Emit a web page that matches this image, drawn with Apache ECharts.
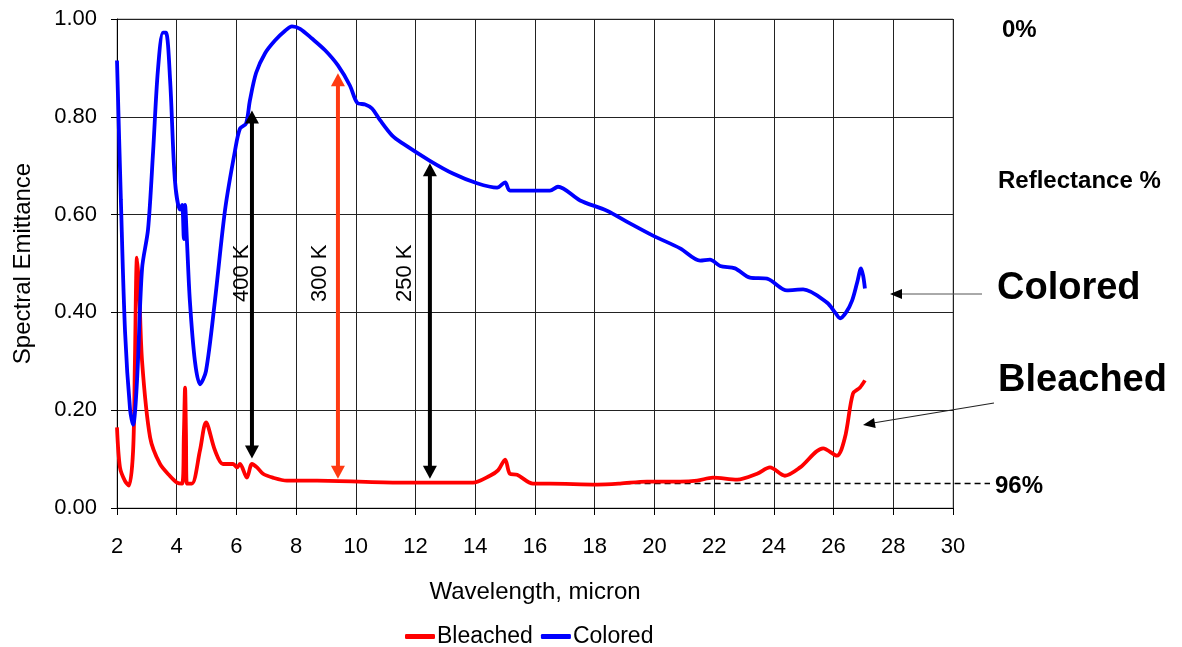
<!DOCTYPE html>
<html>
<head>
<meta charset="utf-8">
<script src="https://cdn.jsdelivr.net/npm/echarts@6/dist/echarts.min.js"></script>
<style>
  html, body { margin: 0; padding: 0; background: #fff; }
  #main { width: 1182px; height: 647px; }
</style>
</head>
<body>
<div id="main"></div>
<script>
// ---- data ----
var coloredX = [2.00, 2.13, 2.27, 2.44, 2.54, 2.67, 2.84, 3.04, 3.21, 3.37, 3.54, 3.64, 3.78, 3.94, 4.11, 4.18, 4.24, 4.28, 4.34, 4.44,
  4.61, 4.78, 4.98, 5.28, 5.62, 5.95, 6.12, 6.32, 6.45, 6.66, 6.96, 7.29, 7.63, 7.86, 8.13, 8.53, 8.97, 9.40, 9.80, 10.04,
  10.31, 10.54, 10.81, 11.21, 11.58, 12.48, 13.25, 14.06, 14.73, 15.00, 15.16, 16.50, 16.77, 17.51, 18.41, 19.18, 19.95, 20.86, 21.53, 21.86,
  22.20, 22.70, 23.20, 23.77, 24.44, 24.98, 25.78, 26.05, 26.22, 26.42, 26.62, 26.79, 26.92, 26.99, 27.05];
var coloredY = [0.915, 0.63, 0.36, 0.20, 0.17, 0.26, 0.49, 0.57, 0.73, 0.895, 0.972, 0.972, 0.874, 0.67, 0.61, 0.62, 0.55, 0.62, 0.55, 0.424,
  0.30, 0.253, 0.28, 0.424, 0.61, 0.73, 0.776, 0.786, 0.833, 0.89, 0.93, 0.956, 0.976, 0.985, 0.98, 0.96, 0.936, 0.905, 0.864, 0.829,
  0.825, 0.817, 0.793, 0.762, 0.745, 0.71, 0.684, 0.664, 0.655, 0.666, 0.649, 0.649, 0.657, 0.629, 0.608, 0.582, 0.557, 0.531, 0.506, 0.508,
  0.495, 0.49, 0.471, 0.469, 0.445, 0.447, 0.42, 0.40, 0.388, 0.40, 0.424, 0.461, 0.49, 0.475, 0.449];

var bleachedX = [2.00, 2.10, 2.27, 2.40, 2.54, 2.60, 2.67, 2.74, 2.84, 3.11, 3.44, 3.78, 4.01, 4.18, 4.24, 4.28, 4.31, 4.34, 4.51, 4.78,
  4.98, 5.28, 5.55, 5.89, 6.02, 6.12, 6.35, 6.52, 6.69, 6.89, 7.22, 7.69, 8.70, 11.48, 13.92, 14.49, 14.76, 15.00, 15.16, 15.40,
  15.93, 16.50, 18.08, 18.85, 19.75, 20.86, 21.43, 21.96, 22.77, 23.44, 23.87, 24.37, 24.88, 25.65, 26.11, 26.38, 26.65, 26.88, 27.05];
var bleachedY = [0.165, 0.083, 0.055, 0.046, 0.118, 0.30, 0.512, 0.45, 0.30, 0.144, 0.09, 0.065, 0.052, 0.05, 0.15, 0.246, 0.15, 0.05, 0.05, 0.118,
  0.175, 0.118, 0.09, 0.09, 0.083, 0.09, 0.062, 0.09, 0.083, 0.07, 0.062, 0.056, 0.056, 0.052, 0.052, 0.066, 0.077, 0.099, 0.07, 0.068,
  0.05, 0.05, 0.048, 0.05, 0.054, 0.054, 0.056, 0.062, 0.058, 0.07, 0.083, 0.066, 0.083, 0.122, 0.107, 0.144, 0.234, 0.246, 0.261];

// temperature arrows: x position, top and bottom emittance, label x
var arrowNames = ['400 K', '300 K', '250 K'];
var arrowX = [6.52, 9.40, 12.48];
var arrowTop = [0.813, 0.889, 0.705];
var arrowBottom = [0.101, 0.06, 0.06];
var arrowLabelX = [6.18, 8.80, 11.64];
var arrowColors = ['#000000', '#ff3a12', '#000000'];

var reflect96 = 0.051;   // dashed 96% line level
var reflect96From = 19.0;

function pairs(xs, ys) {
  var out = [];
  for (var i = 0; i < xs.length; i++) out.push([xs[i], ys[i]]);
  return out;
}

var chart = echarts.init(document.getElementById('main'));
var font = 'Liberation Sans, Arial, sans-serif';

var option = {
  animation: false,
  backgroundColor: '#fff',
  grid: { left: 117, right: 229, top: 19, bottom: 139, show: true, borderColor: '#999', borderWidth: 1 },
  legend: {
    data: ['Bleached', 'Colored'],
    top: 620,
    left: 400,
    itemGap: 8,
    icon: 'roundRect',
    itemWidth: 30,
    itemHeight: 5,
    textStyle: { fontFamily: font, fontSize: 23, color: '#000', padding: [0, 0, 0, -3] }
  },
  xAxis: {
    type: 'value', min: 2, max: 30, interval: 2,
    name: 'Wavelength, micron', nameLocation: 'middle', nameGap: 72,
    nameTextStyle: { fontFamily: font, fontSize: 24, color: '#000' },
    axisLine: { show: true, lineStyle: { color: '#000', width: 1 } },
    axisTick: { show: true, length: 7, lineStyle: { color: '#000' } },
    axisLabel: { margin: 28, fontFamily: font, fontSize: 22, color: '#000' },
    splitLine: { show: true, lineStyle: { color: '#222', width: 1 } }
  },
  yAxis: {
    type: 'value', min: 0, max: 1, interval: 0.2,
    name: 'Spectral Emittance', nameLocation: 'middle', nameGap: 82,
    nameTextStyle: { fontFamily: font, fontSize: 24, color: '#000' },
    axisLine: { show: true, lineStyle: { color: '#000', width: 1 } },
    axisTick: { show: true, length: 6, lineStyle: { color: '#000' } },
    axisLabel: { margin: 20, fontFamily: font, fontSize: 22, color: '#000',
      formatter: function (v) { return v.toFixed(2); } },
    splitLine: { show: true, lineStyle: { color: '#222', width: 1 } }
  },
  series: [
    { name: 'Bleached', type: 'line', data: pairs(bleachedX, bleachedY), showSymbol: false, symbol: 'none',
      smooth: 0.3, color: '#ff0000', lineStyle: { width: 3.8, color: '#ff0000' }, z: 3 },
    { name: 'Colored', type: 'line', data: pairs(coloredX, coloredY), showSymbol: false, symbol: 'none',
      smooth: 0.3, color: '#0000ff', lineStyle: { width: 3.8, color: '#0000ff' }, z: 4 }
  ]
};
chart.setOption(option);

// ---- annotations ----
function px(x, y) { return chart.convertToPixel({ gridIndex: 0 }, [x, y]); }

function arrowHead(tip, from, len, half, color) {
  var dx = tip[0] - from[0], dy = tip[1] - from[1];
  var d = Math.sqrt(dx * dx + dy * dy);
  var ux = dx / d, uy = dy / d;
  var bx = tip[0] - ux * len, by = tip[1] - uy * len;
  return {
    type: 'polygon', z: 20,
    shape: { points: [tip, [bx - uy * half, by + ux * half], [bx + uy * half, by - ux * half]] },
    style: { fill: color }
  };
}

var g = [];
for (var i = 0; i < arrowX.length; i++) {
  var p1 = px(arrowX[i], arrowTop[i]);
  var p2 = px(arrowX[i], arrowBottom[i]);
  g.push({ type: 'line', z: 19, shape: { x1: p1[0], y1: p1[1] + 10, x2: p2[0], y2: p2[1] - 10 },
    style: { stroke: arrowColors[i], lineWidth: 4 } });
  g.push(arrowHead(p1, p2, 13, 7, arrowColors[i]));
  g.push(arrowHead(p2, p1, 13, 7, arrowColors[i]));
  var lp = px(arrowLabelX[i], 0.48);
  g.push({ type: 'text', z: 21, x: lp[0], y: lp[1], rotation: Math.PI / 2,
    style: { text: arrowNames[i], font: '22px ' + font, fill: '#000', align: 'center', verticalAlign: 'middle' } });
}

// 96% dashed reference line
var d1 = px(reflect96From, reflect96);
g.push({ type: 'line', z: 2, shape: { x1: d1[0], y1: Math.round(d1[1]) + 0.5, x2: 990, y2: Math.round(d1[1]) + 0.5 },
  style: { stroke: '#000', lineWidth: 1.3, lineDash: [6, 4] } });

// right-side labels
g.push({ type: 'text', x: 1002, y: 30, style: { text: '0%', font: 'bold 24px ' + font, fill: '#000', verticalAlign: 'middle' } });
g.push({ type: 'text', x: 998, y: 181, style: { text: 'Reflectance %', font: 'bold 24px ' + font, fill: '#000', verticalAlign: 'middle' } });
g.push({ type: 'text', x: 995, y: d1[1] + 3, style: { text: '96%', font: 'bold 24px ' + font, fill: '#000', verticalAlign: 'middle' } });
g.push({ type: 'text', x: 997, y: 289, style: { text: 'Colored', font: 'bold 38px ' + font, fill: '#000', verticalAlign: 'middle' } });
g.push({ type: 'text', x: 998, y: 381, style: { text: 'Bleached', font: 'bold 38px ' + font, fill: '#000', verticalAlign: 'middle' } });

// pointer arrows to the curves
g.push({ type: 'line', z: 18, shape: { x1: 982, y1: 294, x2: 900, y2: 294 }, style: { stroke: '#555', lineWidth: 1 } });
g.push(arrowHead([890, 294], [982, 294], 12, 5, '#000'));
g.push({ type: 'line', z: 18, shape: { x1: 994, y1: 403, x2: 873, y2: 423 }, style: { stroke: '#222', lineWidth: 1.2 } });
g.push(arrowHead([863, 425], [994, 403], 12, 5, '#000'));

chart.setOption({ graphic: g });
</script>
</body>
</html>
